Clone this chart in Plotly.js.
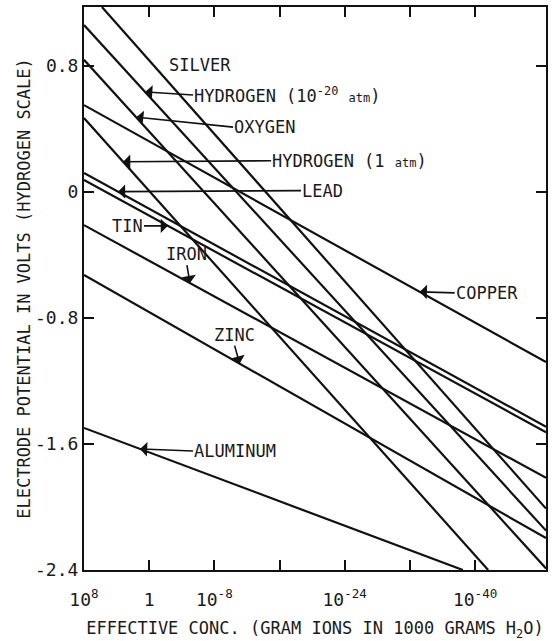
<!DOCTYPE html>
<html>
<head>
<meta charset="utf-8">
<script src="https://cdn.plot.ly/plotly-3.0.1.min.js"></script>
<style>
html,body{margin:0;padding:0;background:#fff;}
#chart{width:553px;height:641px;}
</style>
</head>
<body>
<div id="chart"></div>
<script>
// ---- Data: log10 of effective concentration (endpoints) and electrode potential (V) ----
const silverLogC   = [5.8, -48.7];
const silverE      = [1.175, -2.01];
const hydrogen20LogC = [8, -48.7];
const hydrogen20E    = [1.06, -2.15];
const oxygenLogC   = [8, -48.7];
const oxygenE      = [0.84, -2.39];
const hydrogen1LogC = [8, -41.6];
const hydrogen1E    = [0.47, -2.4];
const copperLogC   = [8, -48.7];
const copperE      = [0.552, -1.08];
const leadLogC     = [8, -48.7];
const leadE        = [0.121, -1.49];
const tinLogC      = [8, -48.7];
const tinE         = [0.076, -1.525];
const ironLogC     = [8, -48.7];
const ironE        = [-0.21, -1.815];
const zincLogC     = [8, -48.7];
const zincE        = [-0.527, -2.197];
const aluminumLogC = [8, -38.5];
const aluminumE    = [-1.498, -2.4];

const xTickExp   = [8, 0, -8, -16, -24, -32, -40];
const xTickText  = ['10<sup>8</sup>', '1', '10<sup>-8</sup>', '', '10<sup>-24</sup>', '', '10<sup>-40</sup>'];
const yTickVals  = [0.8, 0, -0.8, -1.6, -2.4];
const yTickText  = ['0.8', '0', '-0.8', '-1.6', '-2.4'];

const series = [
  {name:'SILVER', lc:silverLogC, e:silverE},
  {name:'HYDROGEN (10^-20 atm)', lc:hydrogen20LogC, e:hydrogen20E},
  {name:'OXYGEN', lc:oxygenLogC, e:oxygenE},
  {name:'HYDROGEN (1 atm)', lc:hydrogen1LogC, e:hydrogen1E},
  {name:'COPPER', lc:copperLogC, e:copperE},
  {name:'LEAD', lc:leadLogC, e:leadE},
  {name:'TIN', lc:tinLogC, e:tinE},
  {name:'IRON', lc:ironLogC, e:ironE},
  {name:'ZINC', lc:zincLogC, e:zincE},
  {name:'ALUMINUM', lc:aluminumLogC, e:aluminumE}
];

const traces = series.map(s => ({
  type:'scatter', mode:'lines', name:s.name,
  x: s.lc.map(v => Math.pow(10, v)),
  y: s.e,
  line:{color:'#111', width:2.2},
  hoverinfo:'skip'
}));

// potential on a line at a given log concentration (linear in log C)
function eAt(lc, e, logx){
  const t = (logx - lc[0]) / (lc[1] - lc[0]);
  return e[0] + t * (e[1] - e[0]);
}

const FONT = {family:'DejaVu Sans Mono, monospace', size:17, color:'#1a1a1a'};
const small = "<span style='font-size:12px'>atm</span>";

function arrowLabel(text, lc, e, logx, ax, ay, xanchor, yanchor){
  return {
    x: logx, y: eAt(lc, e, logx), xref:'x', yref:'y',
    text: text, showarrow:true, ax: ax, ay: ay,
    xanchor: xanchor || 'left', yanchor: yanchor || 'middle',
    arrowhead:1, arrowsize:1.5, arrowwidth:1.6, arrowcolor:'#111',
    font: FONT, borderpad:0
  };
}

const annotations = [
  {x:-6.2, y:0.806, xref:'x', yref:'y', text:'SILVER', showarrow:false, font:FONT},
  arrowLabel('HYDROGEN (10<sup>-20</sup> ' + small + ')', hydrogen20LogC, hydrogen20E, 0.5, 48, 3),
  arrowLabel('OXYGEN', oxygenLogC, oxygenE, 1.6, 97, 10),
  arrowLabel('HYDROGEN (1 ' + small + ')', hydrogen1LogC, hydrogen1E, 3.2, 148, -1),
  arrowLabel('LEAD', leadLogC, leadE, 3.83, 183, -1),
  arrowLabel('TIN', tinLogC, tinE, -2.3, -24, 0, 'right'),
  arrowLabel('IRON', ironLogC, ironE, -5.0, -3, -18, 'center', 'bottom'),
  arrowLabel('ZINC', zincLogC, zincE, -11.1, -5, -18, 'center', 'bottom'),
  arrowLabel('COPPER', copperLogC, copperE, -33.2, 35, 1),
  arrowLabel('ALUMINUM', aluminumLogC, aluminumE, 1.13, 53, 2)
];

const layout = {
  width:553, height:641,
  margin:{l:84, r:7, t:7, b:71},
  paper_bgcolor:'#fff', plot_bgcolor:'#fff',
  showlegend:false,
  font: FONT,
  xaxis:{
    type:'log', range:[8, -48.7], autorange:false,
    tickvals: xTickExp.map(v => Math.pow(10, v)), ticktext: xTickText,
    ticks:'inside', ticklen:10, tickwidth:2, tickcolor:'#111',
    ticklabelstandoff:12,
    showline:true, linecolor:'#111', linewidth:2, mirror:'ticks',
    showgrid:false, zeroline:false,
    tickfont:{family:'DejaVu Sans Mono, monospace', size:18, color:'#1a1a1a'},
    title:{text:'EFFECTIVE CONC. (GRAM IONS IN 1000 GRAMS H<sub>2</sub>O)',
           font:{family:'DejaVu Sans Mono, monospace', size:17, color:'#1a1a1a'}, standoff:14}
  },
  yaxis:{
    range:[-2.4, 1.175], autorange:false,
    tickvals:yTickVals, ticktext:yTickText,
    ticks:'inside', ticklen:10, tickwidth:2, tickcolor:'#111',
    showline:true, linecolor:'#111', linewidth:2, mirror:'ticks',
    showgrid:false, zeroline:false,
    tickfont:{family:'DejaVu Sans Mono, monospace', size:18, color:'#1a1a1a'},
    title:{text:'ELECTRODE POTENTIAL IN VOLTS (HYDROGEN SCALE)',
           font:{family:'DejaVu Sans Mono, monospace', size:17, color:'#1a1a1a'}, standoff:0}
  },
  annotations: annotations
};

Plotly.newPlot('chart', traces, layout, {staticPlot:true, displayModeBar:false});
</script>
</body>
</html>
